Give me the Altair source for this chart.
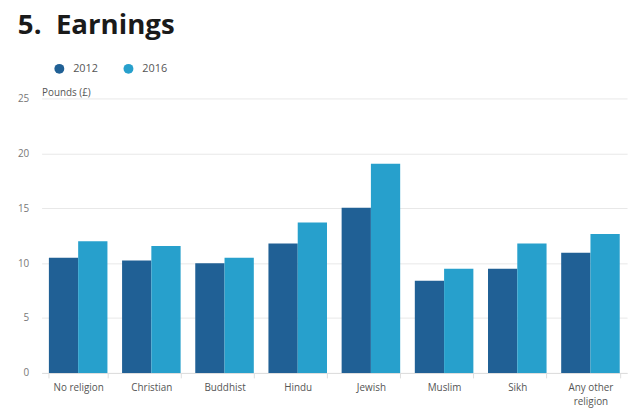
import altair as alt
import pandas as pd

religions = ["No religion", "Christian", "Buddhist", "Hindu", "Jewish", "Muslim", "Sikh", "Any other religion"]
years = ["2012", "2016"]
earn_2012 = [10.5, 10.25, 10.0, 11.8, 15.05, 8.4, 9.5, 10.95]
earn_2016 = [12.0, 11.55, 10.5, 13.7, 19.05, 9.5, 11.8, 12.65]
colors = ["#206095", "#27a0cc"]

rows = []
for i, r in enumerate(religions):
    rows.append({"religion": r, "year": "2012", "value": earn_2012[i]})
    rows.append({"religion": r, "year": "2016", "value": earn_2016[i]})
df = pd.DataFrame(rows)

chart = alt.Chart(df).mark_bar().encode(
    x=alt.X("religion:N", sort=religions,
            scale=alt.Scale(paddingInner=0.2, paddingOuter=0.1),
            axis=alt.Axis(title=None, labelAngle=0, labelColor="#555", labelFontSize=10,
                          labelFont="Open Sans", labelPadding=5, tickBand="extent",
                          domainColor="#dddddd", tickColor="#dddddd", tickSize=5,
                          labelExpr="datum.value == 'Any other religion' ? ['Any other', 'religion'] : datum.value",
                          labelLineHeight=14)),
    xOffset=alt.XOffset("year:N", sort=years),
    y=alt.Y("value:Q", scale=alt.Scale(domain=[0, 25]),
            axis=alt.Axis(title="Pounds (£)", titleAngle=0, titleX=0, titleY=-3,
                          titleAlign="left", titleBaseline="alphabetic",
                          titleFontWeight="normal", titleFontSize=10, titleColor="#555",
                          titleFont="Open Sans",
                          values=[0, 5, 10, 15, 20, 25], domain=False, ticks=False,
                          labelColor="#777", labelFontSize=10, labelFont="Open Sans",
                          labelPadding=13, gridColor="#e8e8e8")),
    color=alt.Color("year:N", sort=years, scale=alt.Scale(domain=years, range=colors),
                    legend=alt.Legend(title=None, orient="none", legendX=12, legendY=-36,
                                      direction="horizontal", symbolType="circle",
                                      symbolSize=100, labelFontSize=11, labelColor="#555",
                                      labelFont="Open Sans", labelOffset=8, columnPadding=24)),
).properties(
    width=593, height=278,
    autosize=alt.AutoSizeParams(type="none"),
    padding={"left": 34, "top": 89, "right": 5, "bottom": 40},
    title=alt.TitleParams("5.\u00a0\u00a0Earnings", anchor="start", frame="group", dx=-24,
                          offset=1, baseline="alphabetic", fontSize=28,
                          font="Open Sans", fontWeight="bold", color="#1a1a1a"),
).configure_view(stroke=None)

chart.save("out.html", embed_options={"renderer": "svg", "actions": False})
